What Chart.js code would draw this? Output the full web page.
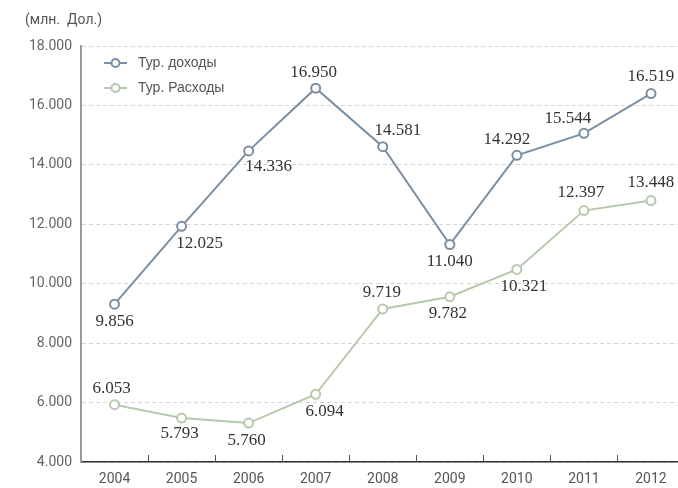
<!DOCTYPE html>
<html>
<head>
<meta charset="utf-8">
<script src="https://cdn.jsdelivr.net/npm/chart.js@4/dist/chart.umd.min.js"></script>
<style>
    html, body { margin: 0; padding: 0; background: #fff; overflow: hidden; }
    #wrap { width: 678px; height: 488px; overflow: hidden; }
</style>
</head>
<body>
<div id="wrap"><canvas id="Linha" width="691" height="488"></canvas></div>
<script>
const years = ['2004', '2005', '2006', '2007', '2008', '2009', '2010', '2011', '2012'];

// where the points sit on the axis
const dohody = [9310, 11930, 14470, 16580, 14610, 11320, 14320, 15060, 16400];
const rashody = [5930, 5480, 5310, 6280, 9150, 9560, 10480, 12460, 12800];

// numbers printed next to the points
const dohodyText = [9856, 12025, 14336, 16950, 14581, 11040, 14292, 15544, 16519];
const rashodyText = [6053, 5793, 5760, 6094, 9719, 9782, 10321, 12397, 13448];

const yTicks = [4000, 6000, 8000, 10000, 12000, 14000, 16000, 18000];

// label placement next to each point: [dx, dy]
const dohodyShift = [[0, 17], [18, 17], [20, 16], [-2, -16], [15, -16], [0, 17], [-10, -16], [-16, -15], [0, -17]];
const rashodyShift = [[-3, -16], [-2, 16], [-2, 17], [9, 17], [-1, -16], [-2, 17], [7, 17], [-3, -18], [0, -18]];

const corDohody = '#7b8fa2';
const corRashody = '#b6c9ac';

function fmt(v) {
    return (v / 1000).toFixed(3);
}

const extras = {
    id: 'extras',
    afterDraw(chart) {
        const ctx = chart.ctx;
        const x = chart.scales.x;
        const area = chart.chartArea;
        ctx.save();

        // title
        ctx.fillStyle = '#555';
        ctx.font = '14px Roboto';
        ctx.textAlign = 'left';
        ctx.textBaseline = 'middle';
        ctx.fillText('(млн.  Дол.)', 25, 20);

        // small ticks between categories
        ctx.strokeStyle = '#555';
        ctx.lineWidth = 1;
        ctx.beginPath();
        for (let i = 0; i < years.length; i++) {
            const px = Math.round(x.getPixelForValue(i) + x.width / years.length / 2) + 0.5;
            ctx.moveTo(px, area.bottom);
            ctx.lineTo(px, area.bottom - 7);
        }
        ctx.stroke();

        // legend
        ctx.font = '14px "Liberation Sans"';
        chart.data.datasets.forEach((ds, k) => {
            const ly = 63 + k * 25;
            ctx.strokeStyle = ds.borderColor;
            ctx.lineWidth = 2;
            ctx.beginPath();
            ctx.moveTo(104, ly);
            ctx.lineTo(127, ly);
            ctx.stroke();
            ctx.beginPath();
            ctx.arc(115.5, ly, 4, 0, Math.PI * 2);
            ctx.fillStyle = '#fff';
            ctx.fill();
            ctx.stroke();
            ctx.fillStyle = '#555';
            ctx.fillText(ds.label, 138, ly);
        });

        // value labels
        ctx.font = '17px "Liberation Serif"';
        ctx.fillStyle = '#333';
        ctx.textAlign = 'center';
        const texts = [dohodyText, rashodyText];
        const shifts = [dohodyShift, rashodyShift];
        chart.data.datasets.forEach((ds, k) => {
            chart.getDatasetMeta(k).data.forEach((pt, i) => {
                ctx.fillText(fmt(texts[k][i]), pt.x + shifts[k][i][0], pt.y + shifts[k][i][1]);
            });
        });
        ctx.restore();
    }
};

const configLinha = {
    type: 'line',
    data: {
        labels: years,
        datasets: [
            {
                label: 'Тур. доходы',
                data: dohody,
                borderColor: corDohody,
                backgroundColor: '#fff',
                borderWidth: 2,
                pointRadius: 4.5,
                pointBorderWidth: 2,
                pointBackgroundColor: '#fff',
                tension: 0,
            },
            {
                label: 'Тур. Расходы',
                data: rashody,
                borderColor: corRashody,
                backgroundColor: '#fff',
                borderWidth: 2,
                pointRadius: 4.5,
                pointBorderWidth: 2,
                pointBackgroundColor: '#fff',
                tension: 0,
            }
        ]
    },
    options: {
        responsive: false,
        animation: false,
        layout: { padding: { top: 46, right: 0, bottom: 0, left: 0 } },
        plugins: {
            legend: { display: false },
            tooltip: { enabled: false },
        },
        scales: {
            x: {
                offset: true,
                grid: { display: false, drawTicks: false },
                border: { color: '#333', width: 1.5 },
                ticks: {
                    color: '#555',
                    font: { family: 'Roboto', size: 14 },
                    padding: 9,
                    maxRotation: 0,
                },
                afterFit(scale) { scale.height = 26; },
            },
            y: {
                min: 4000,
                max: 18000,
                afterBuildTicks(scale) {
                    scale.ticks = yTicks.map(v => ({ value: v }));
                },
                grid: { color: '#d6d6d6', lineWidth: 1, drawTicks: false },
                border: { color: '#9a9a9a', width: 2, dash: [4, 3] },
                ticks: {
                    color: '#666',
                    font: { family: 'Roboto', size: 14 },
                    padding: 9,
                    callback: v => fmt(v),
                },
                afterFit(scale) { scale.width = 81; },
            }
        }
    },
    plugins: [extras]
};

const myChart = new Chart(
    document.getElementById('Linha'),
    configLinha
);
</script>
</body>
</html>
